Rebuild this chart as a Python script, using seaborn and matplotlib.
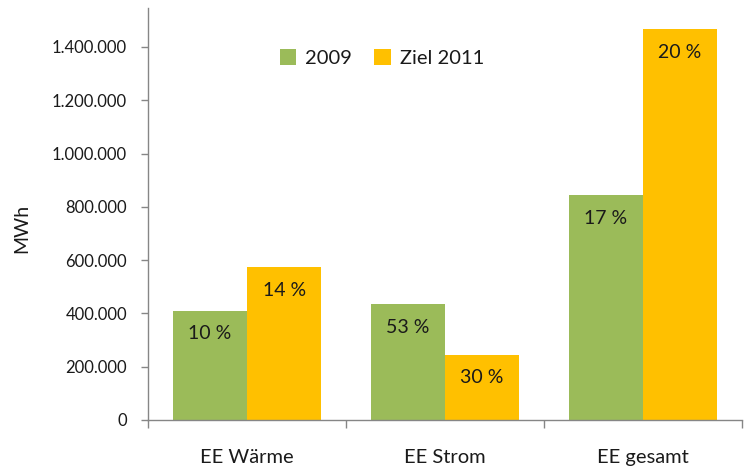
import matplotlib
matplotlib.use("Agg")
import matplotlib.pyplot as plt
import matplotlib.ticker as mticker
import seaborn as sns
import pandas as pd

categories = ["EE Wärme", "EE Strom", "EE gesamt"]
series = ["2009", "Ziel 2011"]
values_2009 = [410000, 434000, 844000]
values_2011 = [573000, 245000, 1466000]
labels_2009 = ["10 %", "53 %", "17 %"]
labels_2011 = ["14 %", "30 %", "20 %"]
y_label = "MWh"

df = pd.DataFrame({
    "Kategorie": categories * 2,
    "Reihe": [series[0]] * 3 + [series[1]] * 3,
    "MWh": values_2009 + values_2011,
})

sns.set_theme(style="white")
plt.rcParams["font.family"] = ["Lato", "DejaVu Sans"]

fig = plt.figure(figsize=(7.48, 4.70), dpi=100)
ax = fig.add_axes([148 / 748, 1 - 420 / 470, (742 - 148) / 748, (420 - 8) / 470])

palette = {"2009": "#9BBB59", "Ziel 2011": "#FFC000"}
sns.barplot(data=df, x="Kategorie", y="MWh", hue="Reihe", order=categories,
            hue_order=series, palette=palette, width=0.75, saturation=1,
            linewidth=0, ax=ax, legend=True)

for cont, labs in zip(ax.containers, [labels_2009, labels_2011]):
    for patch, lab in zip(cont.patches, labs):
        ax.annotate(lab, (patch.get_x() + patch.get_width() / 2, patch.get_height()),
                    xytext=(0, -23), textcoords="offset pixels", ha="center", va="center",
                    fontsize=14, color="#1a1a1a")

ax.set_xlim(-0.5, 2.5)
ax.set_ylim(0, 1546000)
ax.set_yticks(range(0, 1400001, 200000))
ax.yaxis.set_major_formatter(mticker.FuncFormatter(lambda v, p: f"{int(v):,}".replace(",", ".")))
ax.set_xlabel("")
ax.set_ylabel("")
fig.text(22 / 748, 1 - 228 / 470, y_label, rotation=90, ha="center", va="center",
         fontsize=14, color="#1a1a1a")

ax.set_xticks([0, 1, 2])
ax.set_xticklabels(categories)
ax.set_xticks([-0.5, 0.5, 1.5, 2.5], minor=True)
ax.tick_params(axis="x", which="major", length=0, pad=21, labelsize=14.5, labelcolor="#1a1a1a")
ax.tick_params(axis="x", which="minor", length=6, width=1, color="#868686", direction="out", bottom=True)
ax.tick_params(axis="y", which="major", length=5, width=1, color="#868686", direction="out",
               left=True, labelsize=12, labelcolor="#1a1a1a", pad=10)

for s in ["top", "right"]:
    ax.spines[s].set_visible(False)
for s in ["left", "bottom"]:
    ax.spines[s].set_color("#868686")
    ax.spines[s].set_linewidth(1)

leg = ax.legend(loc="center", bbox_to_anchor=(382 / 748, 1 - 58 / 470),
                bbox_transform=fig.transFigure, ncol=2, frameon=False,
                fontsize=14.5, handlelength=0.8, handleheight=0.8,
                handletextpad=0.45, columnspacing=1.1)
for t in leg.get_texts():
    t.set_color("#1a1a1a")

fig.savefig("out.png", dpi=100)
